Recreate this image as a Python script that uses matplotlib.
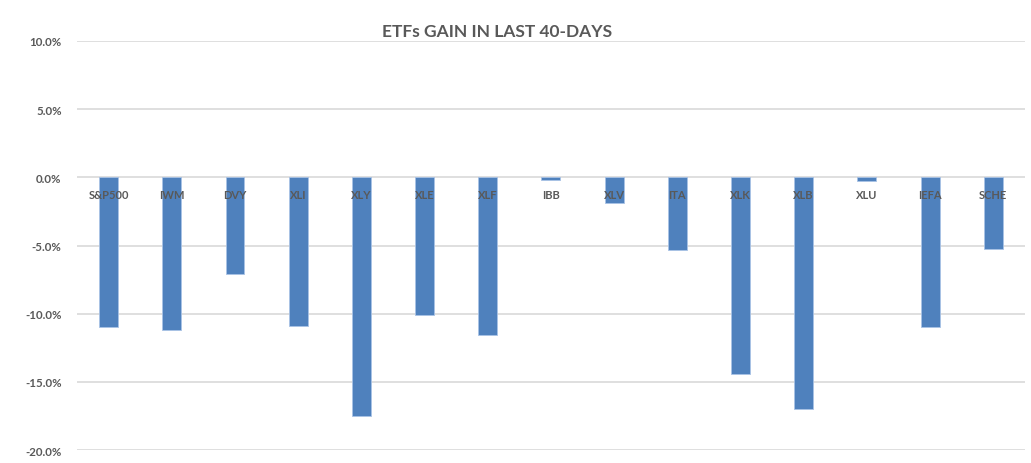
import matplotlib.pyplot as plt
import numpy as np
from matplotlib.ticker import FuncFormatter

# ETF gains over the last 40 days (percent)
tickers = ['S&P500', 'IWM', 'DVY', 'XLI', 'XLY', 'XLE', 'XLF', 'IBB',
           'XLV', 'ITA', 'XLK', 'XLB', 'XLU', 'IEFA', 'SCHE']
gains = [-11.0, -11.2, -7.1, -10.9, -17.5, -10.1, -11.6, -0.2,
         -1.9, -5.3, -14.4, -17.0, -0.25, -11.0, -5.25]
yticks = [10, 5, 0, -5, -10, -15, -20]

plt.rcParams['font.family'] = ['Lato', 'DejaVu Sans']

fig = plt.figure(figsize=(10.31, 4.64), dpi=100)
ax = fig.add_axes([0.0747, 0.028, 0.9193, 0.8815])

x = np.arange(len(tickers))
ax.bar(x, gains, width=0.3, color='#4f81bd', edgecolor='#a9c3e6',
       linewidth=0.6, zorder=3)

ax.set_xlim(-0.5, len(tickers) - 0.5)
ax.set_ylim(-20, 10)
ax.set_yticks(yticks)
ax.yaxis.set_major_formatter(FuncFormatter(lambda v, p: f'{v:.1f}%'))
ax.set_xticks([])
ax.grid(axis='y', color='#d9d9d9', linewidth=1.2, zorder=0)
ax.tick_params(axis='y', length=0, pad=11, labelsize=8.3,
               labelcolor='#595959')
for lbl in ax.get_yticklabels():
    lbl.set_fontweight('bold')
for s in ax.spines.values():
    s.set_visible(False)

# category labels sit just under the zero line
for xi, name in zip(x, tickers):
    ax.text(xi, -1.25, name, ha='center', va='center', fontsize=8,
            fontweight='bold', color='#595959', zorder=4)

fig.text(0.482, 0.93, 'ETFs GAIN IN LAST 40-DAYS', ha='center', va='center',
         fontsize=12.5, fontweight='bold', color='#595959')

fig.savefig('out.png', dpi=100)
